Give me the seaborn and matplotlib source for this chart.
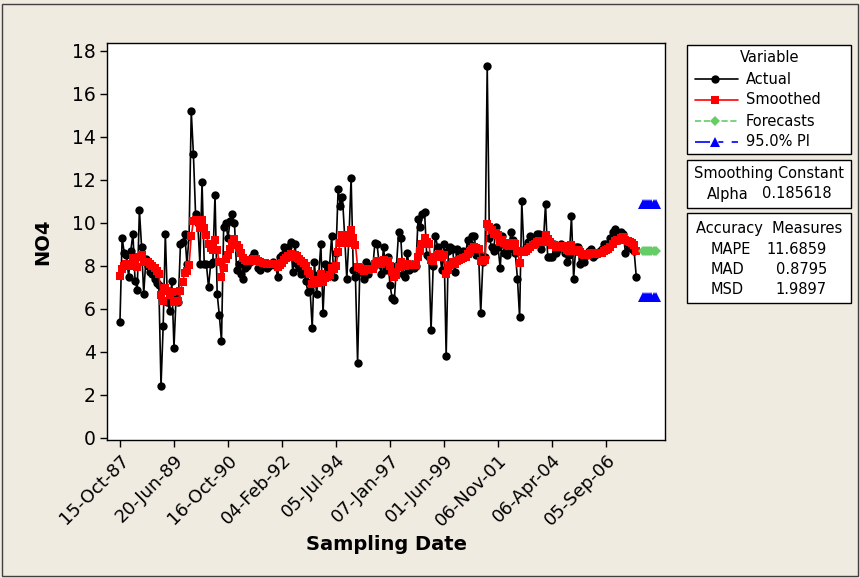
import numpy as np
import pandas as pd
import matplotlib
matplotlib.use("Agg")
import matplotlib.pyplot as plt
from matplotlib.lines import Line2D
from matplotlib.patches import Rectangle
import seaborn as sns

# ---- data -------------------------------------------------------------
no4_actual = [
    # 15-Oct-87 ..
    5.4, 9.3, 8.6, 8.5, 7.5, 8.7, 9.5, 7.3, 6.9, 10.6, 8.9, 6.7, 8.3, 8.0, 7.7,
    7.6, 7.4, 7.2, 7.1, 2.4, 5.2, 9.5, 6.3, 5.9, 7.3,
    # 20-Jun-89 ..
    4.2, 6.6, 6.3, 9.0, 9.1, 9.5, 8.1, 9.4, 15.2, 13.2, 10.4, 10.0, 8.1, 11.9, 8.1,
    8.1, 7.0, 8.1, 8.2, 11.3, 6.7, 5.7, 4.5, 9.8, 10.0,
    # 16-Oct-90 ..
    9.3, 10.1, 10.4, 10.0, 7.8, 8.1, 7.6, 7.4, 7.9, 8.0, 8.2, 8.4, 8.6, 8.3, 7.9,
    7.8, 8.0, 8.1, 7.9, 8.0, 8.1, 8.2, 8.0, 7.5, 8.4,
    # 04-Feb-92 ..
    8.5, 8.9, 8.7, 8.9, 9.1, 7.7, 9.0, 8.1, 7.9, 7.6, 7.9, 7.3, 6.8, 6.9, 5.1,
    8.2, 6.7, 7.6, 9.0, 5.8, 8.1, 7.7, 8.0, 9.4, 7.5,
    # 05-Jul-94 ..
    8.6, 11.6, 10.8, 11.2, 9.4, 7.4, 9.3, 12.1, 7.8, 7.5, 3.5, 7.7, 7.7, 7.4, 8.2,
    7.6, 8.0, 7.9, 9.05, 9.0, 8.1, 7.6, 8.9, 7.8, 8.4,
    # 07-Jan-97 ..
    7.1, 6.5, 6.4, 8.0, 9.6, 9.3, 7.6, 7.5, 8.6, 7.8, 8.1, 7.9, 8.0, 10.2, 9.8,
    10.4, 10.5, 8.5, 8.4, 5.0, 8.0, 9.4, 8.9, 8.6, 7.8,
    # 01-Jun-99 ..
    9.0, 3.8, 8.7, 8.9, 8.8, 7.7, 8.8, 8.6, 8.4, 8.7, 8.6, 9.2, 9.0, 9.4, 9.4,
    8.5, 8.6, 5.8, 8.2, 8.4, 17.3, 9.3, 8.9, 8.7, 9.8,
    # 06-Nov-01 ..
    8.9, 7.9, 9.4, 8.6, 8.5, 8.8, 9.6, 9.2, 8.6, 7.4, 5.6, 11.0, 8.7, 8.9, 9.1,
    9.4, 9.2, 9.3, 9.5, 9.5, 8.8, 9.1, 10.9, 8.4, 8.4,
    # 06-Apr-04 ..
    8.4, 9.0, 8.6, 8.8, 9.0, 8.9, 8.6, 8.2, 8.5, 10.3, 7.4, 8.9, 8.9, 8.1, 8.3,
    8.2, 8.5, 8.7, 8.8, 8.4, 8.5, 8.6, 8.7, 8.8, 9.0,
    # 05-Sep-06 ..
    9.0, 8.9, 9.3, 9.6, 9.7, 9.6, 9.2, 9.6, 9.5, 8.6, 9.0, 8.9, 8.8, 8.7, 7.5,
]

tick_labels = ["15-Oct-87", "20-Jun-89", "16-Oct-90", "04-Feb-92", "05-Jul-94",
               "07-Jan-97", "01-Jun-99", "06-Nov-01", "06-Apr-04", "05-Sep-06"]
tick_index = [1, 26, 51, 76, 101, 126, 151, 176, 201, 226]

alpha = 0.185618
forecast_value = 8.67
pi_lower_value = 6.55
pi_upper_value = 10.88
n_forecast = 7
forecast_start_offset = 3

mape, mad, msd = "11.6859", "0.8795", "1.9897"

# ---- single exponential smoothing --------------------------------------
y = np.asarray(no4_actual, dtype=float)
n = len(y)
level = y[:6].mean()
smoothed = []
for v in y:
    level = alpha * v + (1 - alpha) * level
    smoothed.append(level)

t = np.arange(1, n + 1)
t_fc = np.arange(n + forecast_start_offset, n + forecast_start_offset + n_forecast)

df_act = pd.DataFrame({"Index": t, "Actual": y, "Smoothed": smoothed})
df_fc = pd.DataFrame({"Index": t_fc,
                      "Forecasts": [forecast_value] * n_forecast,
                      "Lower": [pi_lower_value] * n_forecast,
                      "Upper": [pi_upper_value] * n_forecast})

# ---- figure -----------------------------------------------------------
W, H = 860, 578
BG = "#EFEBE1"
sns.set_theme(style="white")
plt.rcParams["font.family"] = ["DejaVu Sans"]
plt.rcParams.update({"text.color": "black", "axes.labelcolor": "black",
                     "xtick.color": "black", "ytick.color": "black"})

fig = plt.figure(figsize=(W / 100, H / 100), dpi=100, facecolor=BG)


def fx(px):
    return px / W


def fy(py):
    return 1 - py / H


ax = fig.add_axes([fx(107), fy(440), fx(665) - fx(107), fy(43) - fy(440)])
ax.set_facecolor("white")

GREEN = "#66CC66"
sns.lineplot(data=df_act, x="Index", y="Actual", ax=ax, color="black", lw=1.2,
             marker="o", markersize=6, markeredgewidth=0, sort=False,
             estimator=None, zorder=3)
sns.lineplot(data=df_act, x="Index", y="Smoothed", ax=ax, color="#FF0000", lw=1.2,
             marker="s", markersize=5.5, markeredgewidth=0, sort=False,
             estimator=None, zorder=4)
sns.lineplot(data=df_fc, x="Index", y="Forecasts", ax=ax, color=GREEN, lw=1.0,
             linestyle="--", marker="D", markersize=5, markeredgewidth=0,
             estimator=None, zorder=5)
for col in ["Lower", "Upper"]:
    sns.lineplot(data=df_fc, x="Index", y=col, ax=ax, color="#0000FF", lw=1.0,
                 linestyle="--", marker="^", markersize=6.5, markeredgewidth=0,
                 estimator=None, zorder=5)

ax.set_xlim(-5.0, 253.3)
ax.set_ylim(-0.1, 18.37)
ax.set_yticks(range(0, 19, 2))
ax.set_xticks(tick_index)
ax.set_xticklabels(tick_labels, rotation=45, ha="right", rotation_mode="anchor",
                   fontsize=13)
ax.tick_params(axis="y", labelsize=13.5)
ax.tick_params(axis="both", direction="out", length=5, width=1, color="black",
               bottom=True, left=True, pad=3)
for s in ax.spines.values():
    s.set_color("black")
    s.set_linewidth(1)

ax.set_xlabel("Sampling Date", fontsize=14, fontweight="bold", labelpad=4)
ax.set_ylabel("NO4", fontsize=14, fontweight="bold", labelpad=14)
if ax.get_legend() is not None:
    ax.get_legend().remove()

# outer frame
fig.patches.append(Rectangle((fx(2), fy(576)), fx(856), fy(4) - fy(576),
                             transform=fig.transFigure, fill=False,
                             edgecolor="#404040", lw=1))


def box(x0, y0, x1, y1):
    fig.patches.append(Rectangle((fx(x0), fy(y1)), fx(x1 - x0), fy(y0) - fy(y1),
                                 transform=fig.transFigure, facecolor="white",
                                 edgecolor="black", lw=1))


FS = 10.5
box(687, 45, 851, 154)
fig.text(fx(770), fy(58), "Variable", ha="center", va="center", fontsize=FS)
entries = [
    ("Actual", dict(color="black", ls="-", marker="o", ms=6), 79),
    ("Smoothed", dict(color="#FF0000", ls="-", marker="s", ms=6), 100),
    ("Forecasts", dict(color=GREEN, ls="--", marker="D", ms=5.5), 121),
    ("95.0% PI", dict(color="#0000FF", ls=(0, (9, 5, 3, 5)), marker="^", ms=7), 142),
]
for label, st, yy in entries:
    fig.add_artist(Line2D([fx(695), fx(738)], [fy(yy), fy(yy)],
                          transform=fig.transFigure, lw=1.2,
                          color=st["color"], ls=st["ls"]))
    fig.add_artist(Line2D([fx(715)], [fy(yy)], transform=fig.transFigure,
                          color=st["color"], marker=st["marker"], ms=st["ms"],
                          markeredgewidth=0, ls="none"))
    fig.text(fx(746), fy(yy), label, ha="left", va="center", fontsize=FS)

box(687, 160, 851, 208)
fig.text(fx(769), fy(174), "Smoothing Constant", ha="center", va="center", fontsize=FS)
fig.text(fx(707), fy(194), "Alpha", ha="left", va="center", fontsize=FS)
fig.text(fx(832), fy(194), f"{alpha:.6f}", ha="right", va="center", fontsize=FS)

box(687, 213, 851, 303)
fig.text(fx(769), fy(228), "Accuracy  Measures", ha="center", va="center", fontsize=FS)
for lab, val, yy in [("MAPE", mape, 249), ("MAD", mad, 269), ("MSD", msd, 289)]:
    fig.text(fx(711), fy(yy), lab, ha="left", va="center", fontsize=FS)
    fig.text(fx(827), fy(yy), val, ha="right", va="center", fontsize=FS)

fig.savefig("out.png", dpi=100, facecolor=BG)
